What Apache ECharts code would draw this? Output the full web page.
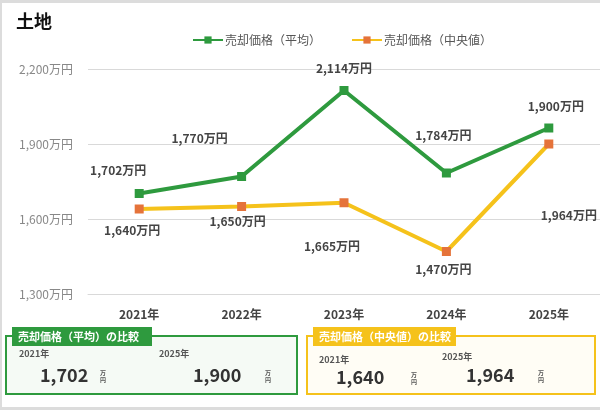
<!DOCTYPE html>
<html>
<head>
<meta charset="utf-8">
<style>
  html, body { margin: 0; padding: 0; background: #fff; }
  #chart { width: 600px; height: 410px; }
</style>
<script src="https://cdn.jsdelivr.net/npm/echarts@6/dist/echarts.min.js"></script>
</head>
<body>
<div id="chart"></div>
<script>
// --- data ---
var years = ['2021年', '2022年', '2023年', '2024年', '2025年'];
// printed labels
var avgPrice = [1702, 1770, 2114, 1784, 1900];
var medianPrice = [1640, 1650, 1665, 1470, 1964];
// where the points sit in the picture (2025 points are drawn swapped)
var avgPlotted = [1702, 1770, 2114, 1784, 1964];
var medianPlotted = [1640, 1650, 1665, 1470, 1900];
var yTicks = [1300, 1600, 1900, 2200];

// label offsets (layout only)
var avgLabelOffset = [[-21, -23], [-42, -38], [0, -22], [-3, -38], [7, -22]];
var medLabelOffset = [[-7, 21], [-4, 15], [-12, 44], [-3, 18], [20, 71]];

var green = '#2e9a3e';
var yellow = '#f5c21b';
var orange = '#e5733a';
var font = '"Noto Sans CJK JP", "Noto Sans", sans-serif';

function comma(v) {
  return String(v).replace(/\B(?=(\d{3})+(?!\d))/g, ',');
}

function buildData(values, offsets) {
  return values.map(function(v, i) {
    return { value: v, label: { offset: offsets[i] } };
  });
}

// comparison box: frame, tab, two year/value pairs
function compareBox(x, w, color, fill, tabW, tabText, first, last, pos) {
  var els = [
    { type: 'rect', shape: { x: x, y: 336, width: w, height: 58 },
      style: { fill: fill, stroke: color, lineWidth: 2 } },
    { type: 'rect', shape: { x: x + 6, y: 327, width: tabW, height: 19 },
      style: { fill: color } },
    { type: 'text', x: x + 12, y: 336.5,
      style: { text: tabText, fill: '#fff', font: 'bold 11px ' + font, verticalAlign: 'middle' } }
  ];
  [first, last].forEach(function(item, k) {
    var p = pos[k];
    els.push({ type: 'text', x: p[0], y: p[1],
      style: { text: item[0], fill: '#555', font: 'bold 9px ' + font, verticalAlign: 'middle' } });
    els.push({ type: 'text', x: p[2], y: p[3],
      style: { text: comma(item[1]), fill: '#333', font: 'bold 18px ' + font, verticalAlign: 'middle' } });
    els.push({ type: 'text', x: p[4], y: p[3] + 1,
      style: { text: '万\n円', fill: '#555', font: 'bold 6px ' + font, lineHeight: 7, verticalAlign: 'middle' } });
  });
  return els;
}

var chart = echarts.init(document.getElementById('chart'), null, { renderer: 'canvas' });

var graphics = [
  { type: 'rect', shape: { x: 0, y: 0, width: 600, height: 3 }, style: { fill: '#dcdcdc' } },
  { type: 'rect', shape: { x: 0, y: 0, width: 2, height: 410 }, style: { fill: '#dcdcdc' } },
  { type: 'rect', shape: { x: 0, y: 407, width: 600, height: 3 }, style: { fill: '#dcdcdc' } }
].concat(
  compareBox(6, 291, green, '#f5faf5', 140, '売却価格（平均）の比較',
    [years[0], avgPrice[0]], [years[4], avgPrice[4]],
    [[19, 354, 40, 375, 100], [159, 354, 193, 375, 265]]),
  compareBox(307, 288, yellow, '#fffdf5', 143, '売却価格（中央値）の比較',
    [years[0], medianPrice[0]], [years[4], medianPrice[4]],
    [[319, 360, 336, 377, 411], [442, 357, 466, 375, 538]])
);

chart.setOption({
  animation: false,
  textStyle: { fontFamily: font },
  title: {
    text: '土地',
    left: 11, top: 7,
    textStyle: { fontSize: 18, fontWeight: 'bold', color: '#111', fontFamily: font }
  },
  legend: {
    left: 187, top: 29,
    itemWidth: 30, itemHeight: 9, itemGap: 30,
    textStyle: { color: '#555', fontSize: 12, fontFamily: font, padding: [0, 0, 0, -3] },
    data: ['売却価格（平均）', '売却価格（中央値）']
  },
  grid: { left: 88, top: 69, width: 514, height: 225 },
  xAxis: {
    type: 'category',
    data: years,
    axisLine: { lineStyle: { color: '#d9d9d9' } },
    axisTick: { show: false },
    axisLabel: { color: '#444', fontSize: 12, fontWeight: 'bold', margin: 14, fontFamily: font }
  },
  yAxis: {
    type: 'value',
    min: yTicks[0], max: yTicks[yTicks.length - 1], interval: 300,
    axisLine: { show: false },
    axisTick: { show: false },
    splitLine: { lineStyle: { color: '#d9d9d9' } },
    axisLabel: {
      color: '#888', fontSize: 12, margin: 15, fontFamily: font,
      formatter: function(v) { return comma(v) + '万円'; }
    }
  },
  series: [
    {
      name: '売却価格（平均）',
      type: 'line',
      data: buildData(avgPlotted, avgLabelOffset),
      symbol: 'rect', symbolSize: 9,
      lineStyle: { color: green, width: 4 },
      itemStyle: { color: green },
      label: {
        show: true, position: 'inside',
        color: '#444', fontSize: 12, fontWeight: 'bold', fontFamily: font,
        formatter: function(p) { return comma(avgPrice[p.dataIndex]) + '万円'; }
      },
      z: 3
    },
    {
      name: '売却価格（中央値）',
      type: 'line',
      data: buildData(medianPlotted, medLabelOffset),
      symbol: 'rect', symbolSize: 9,
      lineStyle: { color: yellow, width: 4 },
      itemStyle: { color: orange },
      label: {
        show: true, position: 'inside',
        color: '#444', fontSize: 12, fontWeight: 'bold', fontFamily: font,
        formatter: function(p) { return comma(medianPrice[p.dataIndex]) + '万円'; }
      },
      z: 2
    }
  ],
  graphic: graphics
});
window.addEventListener('resize', function() { chart.resize(); });
</script>
</body>
</html>
